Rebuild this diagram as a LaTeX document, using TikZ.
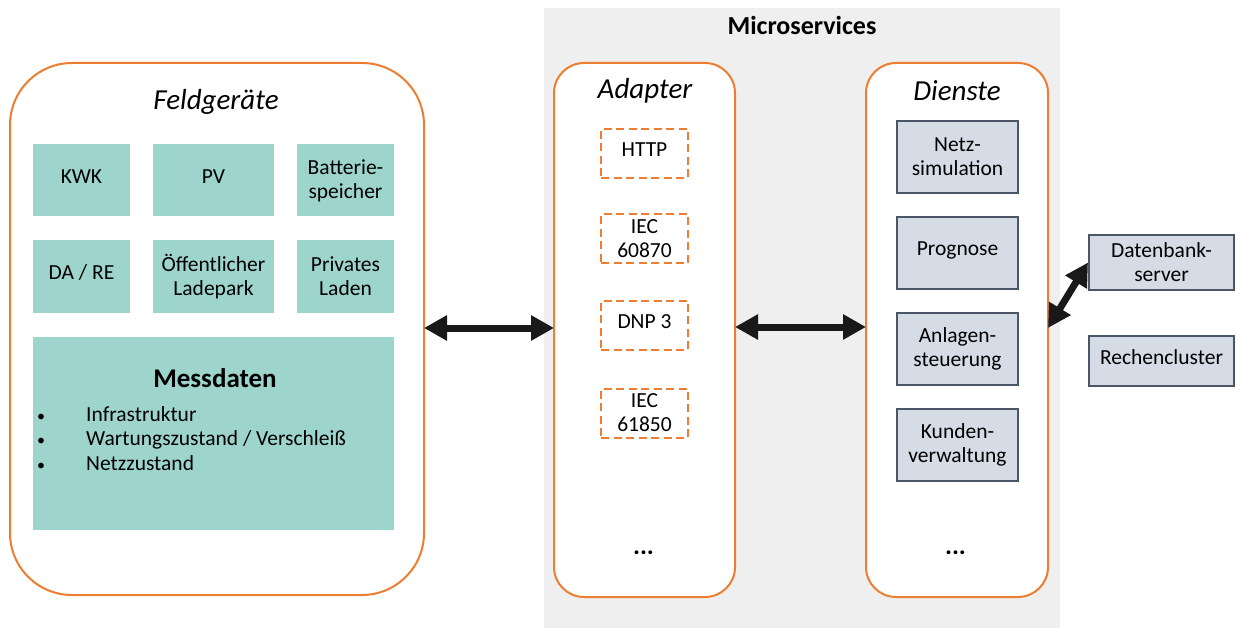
\documentclass[tikz,border=0pt]{standalone}
\usepackage{fontspec}
\setmainfont{Carlito}
\usetikzlibrary{arrows.meta}
\definecolor{accent}{HTML}{ED7D31}
\definecolor{teal}{HTML}{9DD5CC}
\definecolor{panel}{HTML}{EFEFEF}
\definecolor{svcfill}{HTML}{D6DCE5}
\definecolor{svcline}{HTML}{4A5568}
\tikzset{
  group/.style={draw=accent, line width=2pt, fill=white},
  body/.style={font=\fontsize{21.5}{24}\selectfont},
  oneline/.style={text height=14pt, text depth=8pt},
  device/.style={fill=teal, inner sep=0pt, align=center, body},
  proto/.style={draw=accent, line width=2pt, dashed, dash pattern=on 8pt off 4.5pt, inner sep=0pt, align=center, body},
  svc/.style={draw=svcline, line width=2pt, fill=svcfill, inner sep=0pt, align=center, body},
  heading/.style={font=\fontsize{29}{32}\selectfont\itshape},
  more/.style={font=\fontsize{26}{28}\selectfont\bfseries\itshape},
  bigarrow/.style={line width=7pt, {Triangle[length=23pt,width=24pt]}-{Triangle[length=23pt,width=24pt]}, black!90},
}
\begin{document}
\begin{tikzpicture}[x=1pt,y=-1pt]
\useasboundingbox (0,0) rectangle (1236,628);
% microservices backdrop
\fill[panel] (544,8) rectangle (1060,628);
\node[font=\fontsize{26}{28}\selectfont\bfseries] (ms) at (802,25) {Microservices};

% field devices
\draw[group, rounded corners=62pt] (10,63) rectangle (424,595);
\node[heading] (feldT) at (216,102) {Feldgeräte};
\coordinate (feld) at (424,328);
\node[device, oneline, minimum width=97pt, minimum height=72pt] (kwk) at (81.5,180.5) {KWK};
\node[device, oneline, minimum width=121pt, minimum height=72pt] (pv) at (213.5,180.5) {PV};
\node[device, minimum width=97pt, minimum height=72pt] (bat) at (345.5,180.5) {Batterie-\\speicher};
\node[device, oneline, minimum width=97pt, minimum height=73pt] (dare) at (81.5,276.5) {DA / RE};
\node[device, minimum width=121pt, minimum height=73pt] (lade) at (213.5,276.5) {Öffentlicher\\Ladepark};
\node[device, minimum width=97pt, minimum height=73pt] (priv) at (345.5,276.5) {Privates\\Laden};
\node[device, minimum width=361pt, minimum height=193pt] (mess) at (213.5,433.5) {};
\node[font=\fontsize{27}{30}\selectfont\bfseries] (messT) at (215,378) {Messdaten};
\begin{scope}[every node/.style={body, anchor=base west, inner sep=0pt}]
  \node[font=\fontsize{16}{24}\selectfont] (b1) at (37,421) {•};
  \node[font=\fontsize{16}{24}\selectfont] (b2) at (37,445) {•};
  \node[font=\fontsize{16}{24}\selectfont] (b3) at (37,470) {•};
  \node (i1) at (86,421) {Infrastruktur};
  \node (i2) at (86,445) {Wartungszustand / Verschleiß};
  \node (i3) at (86,470) {Netzzustand};
\end{scope}

% adapters
\draw[group, rounded corners=30pt] (554,63) rectangle (735,597);
\node[heading] (adT) at (645,91) {Adapter};
\coordinate (adL) at (554,328);
\coordinate (adR) at (735,327);
\node[proto, oneline, minimum width=87pt, minimum height=49pt] (http) at (644.5,153.5) {HTTP};
\node[proto, minimum width=87pt, minimum height=49pt] (iec1) at (644.5,239) {IEC\\60870};
\node[proto, oneline, minimum width=87pt, minimum height=49pt] (dnp) at (644.5,325) {DNP 3};
\node[proto, minimum width=87pt, minimum height=49pt] (iec2) at (644.5,413) {IEC\\61850};
\node[more] (adD) at (644,553) {...};

% services
\draw[group, rounded corners=30pt] (866,63) rectangle (1048,597);
\node[heading] (dT) at (957,91) {Dienste};
\coordinate (dL) at (866,327);
\coordinate (dR) at (1048,328);
\node[svc, minimum width=121pt, minimum height=72pt] (netz) at (957.5,157) {Netz-\\simulation};
\node[svc, oneline, minimum width=121pt, minimum height=72pt] (prog) at (957.5,253) {Prognose};
\node[svc, minimum width=121pt, minimum height=72pt] (anl) at (957.5,349) {Anlagen-\\steuerung};
\node[svc, minimum width=121pt, minimum height=72pt] (kund) at (957.5,445) {Kunden-\\verwaltung};
\node[more] (dD) at (956,553) {...};

% infrastructure
\node[svc, minimum width=145pt, minimum height=54pt] (db) at (1161.5,262.5) {Datenbank-\\server};
\node[svc, oneline, minimum width=145pt, minimum height=50pt] (rc) at (1161.5,361) {Rechencluster};

% connections
\draw[bigarrow] (feld) -- (adL);
\draw[bigarrow] (adR) -- (dL);
\draw[bigarrow] (dR) -- (db.west);
\end{tikzpicture}
\end{document}
